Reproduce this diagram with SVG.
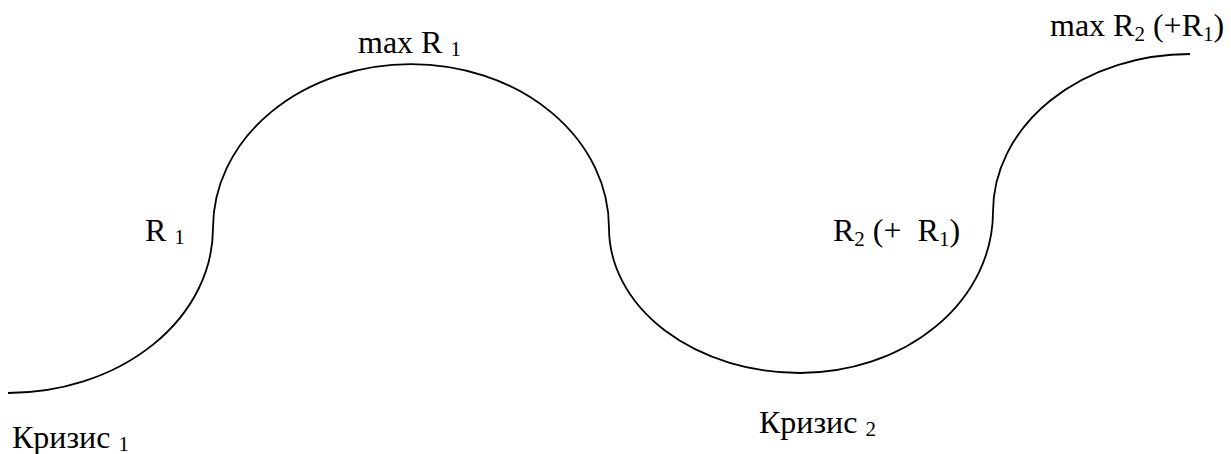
<svg xmlns="http://www.w3.org/2000/svg" width="1231" height="454" viewBox="0 0 1231 454">
<style>
text{font-family:"Liberation Serif","Times New Roman",serif;font-size:32px;fill:#000}
.sub{font-size:21px}
.curve{fill:none;stroke:#000;stroke-width:1.8}
</style>
<rect width="1231" height="454" fill="#fff"/>
<g id="connectors">
<path class="curve" d="M 8 393 A 205 165 0 0 0 213 228 A 198 164 0 0 1 609 228 A 191 145 0 0 0 800 373 A 193 161 0 0 0 993 212 A 197 158 0 0 1 1190 54"/>
</g>
<g id="label-maxR1"><text x="358" y="53">max R <tspan class="sub" dy="3">1</tspan></text></g>
<g id="label-maxR2"><text x="1050" y="36">max R<tspan class="sub" dy="5">2</tspan><tspan dy="-5"> (+R</tspan><tspan class="sub" dy="5">1</tspan><tspan dy="-5">)</tspan></text></g>
<g id="label-R1"><text x="145" y="241">R <tspan class="sub" dy="3">1</tspan></text></g>
<g id="label-R2"><text x="833" y="241">R<tspan class="sub" dy="5">2</tspan><tspan dy="-5"> (+&#160; R</tspan><tspan class="sub" dy="5">1</tspan><tspan dy="-5">)</tspan></text></g>
<g id="label-crisis1"><text x="12" y="448">Кризис <tspan class="sub" dy="3">1</tspan></text></g>
<g id="label-crisis2"><text x="759" y="433">Кризис <tspan class="sub" dy="3">2</tspan></text></g>
</svg>
